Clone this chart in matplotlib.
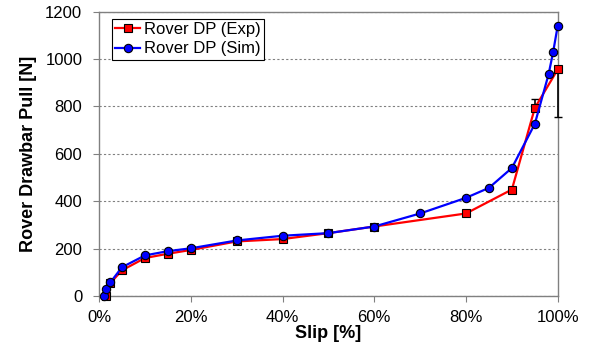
import matplotlib
matplotlib.use("Agg")
import matplotlib.pyplot as plt
from matplotlib.ticker import FuncFormatter

plt.rcParams['font.family'] = ['Liberation Sans', 'DejaVu Sans']

exp_slip = [0.015, 0.025, 0.05, 0.10, 0.15, 0.20, 0.30, 0.40, 0.50, 0.60, 0.80, 0.90, 0.95, 1.00]
exp_dp = [0, 55, 108, 160, 178, 194, 230, 240, 265, 293, 348, 449, 793, 956]
exp_err_low = [0, 0, 0, 0, 0, 0, 0, 0, 0, 0, 0, 0, 0, 200]
exp_err_high = [0, 0, 0, 0, 0, 0, 0, 0, 0, 0, 0, 0, 40, 0]

sim_slip = [0.010, 0.015, 0.025, 0.05, 0.10, 0.15, 0.20, 0.30, 0.40, 0.50, 0.60, 0.70, 0.80, 0.85, 0.90, 0.95, 0.98, 0.99, 1.00]
sim_dp = [0, 30, 58, 121, 171, 189, 201, 234, 254, 265, 293, 348, 414, 456, 540, 726, 935, 1030, 1141]

fig = plt.figure(figsize=(5.94, 3.49), dpi=100)
ax = fig.add_axes([0.1667, 0.152, 0.7723, 0.815])

eb = ax.errorbar(exp_slip, exp_dp, yerr=[exp_err_low, exp_err_high], fmt='none',
                 ecolor='black', elinewidth=1.2, capsize=3, zorder=2.7)
for art in list(eb.lines[1]) + list(eb.lines[2]):
    art.set_clip_on(False)
ax.plot(exp_slip, exp_dp, color='#ff0000', lw=1.6, marker='s', markersize=5.8,
        markerfacecolor='#ff0000', markeredgecolor='black', markeredgewidth=0.8,
        label='Rover DP (Exp)', zorder=3, clip_on=False)
ax.plot(sim_slip, sim_dp, color='#0000ff', lw=1.6, marker='o', markersize=6,
        markerfacecolor='#0000ff', markeredgecolor='black', markeredgewidth=0.8,
        label='Rover DP (Sim)', zorder=4, clip_on=False)

ax.set_xlim(0, 1.0)
ax.set_ylim(0, 1200)
ax.set_xticks([0, 0.2, 0.4, 0.6, 0.8, 1.0])
ax.xaxis.set_major_formatter(FuncFormatter(lambda v, p: f"{v*100:.0f}%"))
ax.set_yticks(range(0, 1201, 200))
ax.yaxis.grid(True, linestyle=(0, (2, 2)), color='#808080', linewidth=0.8)
ax.set_axisbelow(True)

for s in ax.spines.values():
    s.set_color('#808080')
    s.set_linewidth(1.0)
ax.tick_params(direction='out', length=4, color='#808080', labelsize=12, labelcolor='black')
ax.tick_params(axis='y', pad=8)
ax.tick_params(axis='x', pad=6)

ax.set_xlabel('Slip [%]', fontsize=13, fontweight='bold', labelpad=0)
ax.set_ylabel('Rover Drawbar Pull [N]', fontsize=13, fontweight='bold', labelpad=6)

leg = ax.legend(loc='upper left', bbox_to_anchor=(0.028, 0.974), fontsize=12,
                frameon=True, fancybox=False, edgecolor='black', framealpha=1,
                handlelength=1.5, handletextpad=0.2, borderpad=0.2, labelspacing=0.25,
                borderaxespad=0)
leg.get_frame().set_linewidth(0.8)
leg.set_zorder(5)

fig.savefig('out.png', dpi=100)
